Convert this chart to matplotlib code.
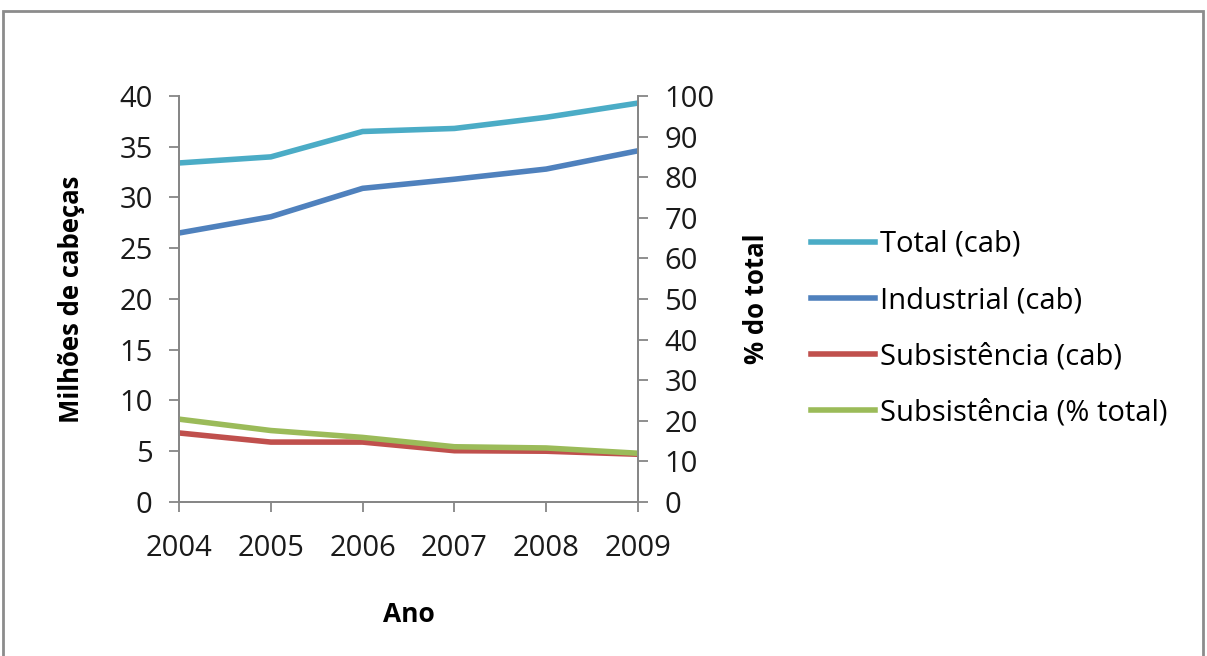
import matplotlib.pyplot as plt
from matplotlib.patches import Rectangle
from matplotlib.lines import Line2D

plt.rcParams['font.family'] = ['Open Sans', 'DejaVu Sans']

anos = [2004, 2005, 2006, 2007, 2008, 2009]
total_cab = [33.4, 34.0, 36.5, 36.8, 37.9, 39.3]
industrial_cab = [26.5, 28.1, 30.9, 31.8, 32.8, 34.6]
subsist_cab = [6.8, 5.9, 5.9, 5.05, 5.0, 4.7]
subsist_pct = [20.4, 17.6, 15.9, 13.6, 13.3, 12.0]

c_total = "#4bacc6"
c_ind = "#4f81bd"
c_sub = "#c0504d"
c_pct = "#9bbb59"
axis_grey = "#868686"
fs = 21
lw = 4.0

fig = plt.figure(figsize=(12.07, 6.56), dpi=100)
ax = fig.add_axes([0.1483, 0.2348, 0.3803, 0.6189])
ax2 = ax.twinx()

ax.plot(anos, total_cab, color=c_total, lw=lw, solid_capstyle="butt")
ax.plot(anos, industrial_cab, color=c_ind, lw=lw, solid_capstyle="butt")
ax.plot(anos, subsist_cab, color=c_sub, lw=lw, solid_capstyle="butt")
ax2.plot(anos, subsist_pct, color=c_pct, lw=lw, solid_capstyle="butt")

ax.set_xlim(2004, 2009)
ax.set_ylim(0, 40)
ax2.set_ylim(0, 100)
ax.set_yticks(range(0, 41, 5))
ax2.set_yticks(range(0, 101, 10))
ax.set_xticks(anos)

for a in (ax, ax2):
    a.spines["top"].set_visible(False)
    for s in ("left", "right", "bottom"):
        a.spines[s].set_color(axis_grey)
        a.spines[s].set_linewidth(1.3)
    a.tick_params(colors=axis_grey, labelcolor="#1a1a1a", labelsize=fs,
                  length=7, width=1.3, direction="out")
ax.tick_params(axis="x", pad=16)
ax.tick_params(axis="y", pad=12)
ax2.tick_params(axis="y", pad=12)

ax.set_xlabel("Ano", fontsize=19, fontweight="bold")
ax.xaxis.set_label_coords(0.5, -0.245)
ax.set_ylabel("Milhões de cabeças", fontsize=18.5, fontweight="bold")
ax.yaxis.set_label_coords(-0.205, 0.5)
ax2.set_ylabel("% do total", fontsize=18.5, fontweight="bold")
ax2.yaxis.set_label_coords(1.228, 0.5)

handles = [Line2D([], [], color=c, lw=lw) for c in (c_total, c_ind, c_sub, c_pct)]
labels = ["Total (cab)", "Industrial (cab)", "Subsistência (cab)",
          "Subsistência (% total)"]
fig.legend(handles, labels, loc="center left", bbox_to_anchor=(0.662, 0.499),
           frameon=False, fontsize=fs, handlelength=2.2, handletextpad=0.18,
           labelspacing=0.93, borderaxespad=0)

# outer chart frame
fig.patches.append(Rectangle((3 / 1207, -0.05), 1200 / 1207, 1 - 11 / 656 + 0.05,
                             transform=fig.transFigure, fill=False,
                             edgecolor="#8c8c8c", lw=2.0))

fig.savefig("out.png", dpi=100)
